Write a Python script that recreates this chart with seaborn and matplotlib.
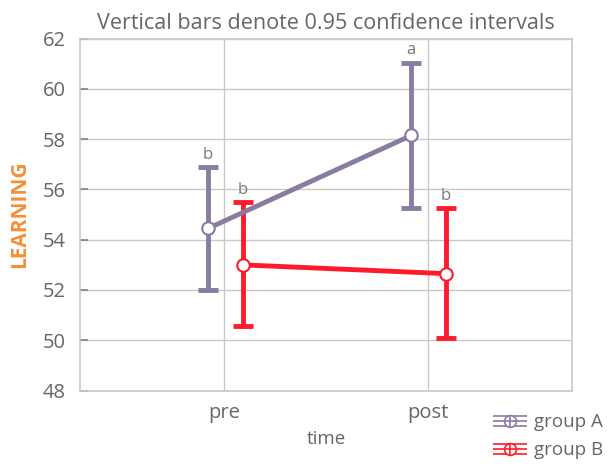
import matplotlib
matplotlib.use("Agg")
import matplotlib.pyplot as plt
import seaborn as sns
import numpy as np
import pandas as pd
from matplotlib.lines import Line2D
from matplotlib.path import Path
from matplotlib.legend_handler import HandlerTuple

# data
times = ["pre", "post"]
groups = ["group A", "group B"]
means_a = [54.45, 58.15]
means_b = [53.0, 52.65]
ci_low_a = [52.0, 55.25]
ci_high_a = [56.9, 61.05]
ci_low_b = [50.55, 50.1]
ci_high_b = [55.5, 55.25]
letters_a = ["b", "a"]
letters_b = ["b", "b"]
y_ticks = [48, 50, 52, 54, 56, 58, 60, 62]

colors = {"group A": "#8a7ba1", "group B": "#ff1a2c"}
offsets = {"group A": -0.08, "group B": 0.09}

sns.set_theme(style="whitegrid")
plt.rcParams["font.family"] = ["Open Sans", "DejaVu Sans"]

rows = []
for g, m, lo, hi, lt in [("group A", means_a, ci_low_a, ci_high_a, letters_a),
                         ("group B", means_b, ci_low_b, ci_high_b, letters_b)]:
    for i, t in enumerate(times):
        rows.append({"group": g, "time": t, "x": i + offsets[g], "mean": m[i],
                     "lo": lo[i], "hi": hi[i], "letter": lt[i]})
df = pd.DataFrame(rows)

fig = plt.figure(figsize=(6.15, 4.66), dpi=100)
ax = fig.add_axes([0.130, 0.162, 0.800, 0.755])

for g in groups:
    d = df[df["group"] == g]
    ax.errorbar(d["x"], d["mean"], yerr=[d["mean"] - d["lo"], d["hi"] - d["mean"]],
                fmt="none", ecolor=colors[g], elinewidth=3.5, capsize=7.5, capthick=3.5,
                zorder=2)
    sns.lineplot(data=d, x="x", y="mean", color=colors[g], ax=ax, sort=False,
                 linewidth=3.5, marker="o", markersize=9, markerfacecolor="white",
                 markeredgecolor=colors[g], markeredgewidth=1.5, zorder=3)

for _, r in df.iterrows():
    ax.annotate(r["letter"], (r["x"], r["hi"]), xytext=(0, 3), textcoords="offset points",
                ha="center", va="bottom", fontsize=12, color="#777777")

ax.set_xlim(-0.71, 1.71)
ax.set_ylim(48, 62)
ax.set_xticks(range(len(times)))
ax.set_xticklabels(times)
ax.set_yticks(y_ticks)
ax.grid(True, color="#c8c8c8", linewidth=1)
for s in ax.spines.values():
    s.set_color("#c8c8c8")
    s.set_linewidth(1.2)
ax.tick_params(axis="y", direction="in", length=6, width=1.2, color="#808080",
               labelsize=14.5, labelcolor="#666666", pad=10, left=True)
ax.tick_params(axis="x", length=0, labelsize=14.5, labelcolor="#666666", pad=9)
ax.set_xlabel("time", fontsize=13.5, color="#666666", labelpad=5)
ax.set_ylabel("LEARNING", fontsize=15, color="#f0913a", fontweight="bold", labelpad=9)
ax.set_title("Vertical bars denote 0.95 confidence intervals", fontsize=15.5,
             color="#666666", pad=7)

# legend glyph: three horizontal lines with a crossed circle
bars = Path([(-1, -0.32), (1, -0.32), (-1, 0), (1, 0), (-1, 0.32), (1, 0.32)],
            [Path.MOVETO, Path.LINETO, Path.MOVETO, Path.LINETO, Path.MOVETO, Path.LINETO])
handles = []
for g in groups:
    h_lines = Line2D([], [], linestyle="none", marker=bars, markersize=24,
                     markeredgecolor=colors[g], markeredgewidth=1.2)
    h_circ = Line2D([], [], linestyle="none", marker="o", markersize=8.5,
                    markerfacecolor="white", markeredgecolor=colors[g], markeredgewidth=1.2)
    h_plus = Line2D([], [], linestyle="none", marker="+", markersize=8.5,
                    markeredgecolor=colors[g], markeredgewidth=1.2)
    handles.append((h_lines, h_circ, h_plus))
fig.legend(handles, groups, handler_map={tuple: HandlerTuple(ndivide=1)},
           loc="lower right", bbox_to_anchor=(1.008, -0.022), frameon=False,
           fontsize=13.5, labelcolor="#666666", handlelength=1.8, handletextpad=0.4,
           labelspacing=0.55)

fig.savefig("out.png", dpi=100)
